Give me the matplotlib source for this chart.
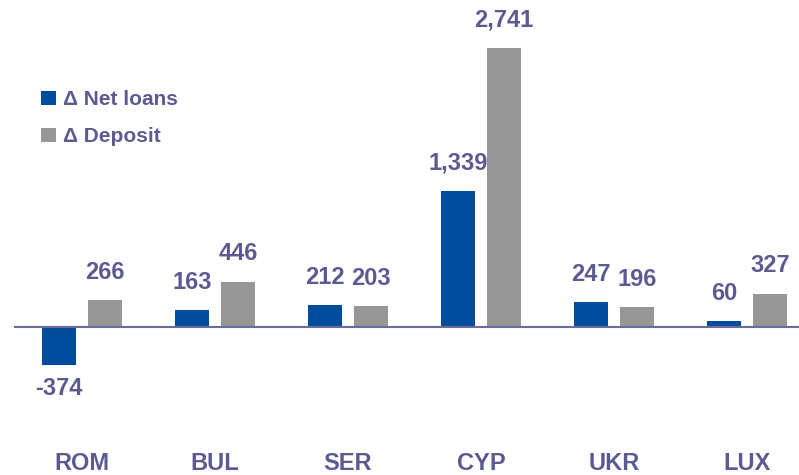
import matplotlib
matplotlib.use("Agg")
import matplotlib.pyplot as plt
import numpy as np
from matplotlib.transforms import blended_transform_factory

# data
categories = ["ROM", "BUL", "SER", "CYP", "UKR", "LUX"]
net_loans = [-374, 163, 212, 1339, 247, 60]
deposits = [266, 446, 203, 2741, 196, 327]
series_names = ["\u0394 Net loans", "\u0394 Deposit"]

blue = "#004c9c"
gray = "#969696"
txt = "#5b5b92"

plt.rcParams["font.family"] = ["Liberation Sans", "DejaVu Sans"]
plt.rcParams["font.weight"] = "bold"

fig = plt.figure(figsize=(7.99, 4.75), dpi=100)
ax = fig.add_axes([0, 0, 1, 1])
ax.axis("off")

x = np.arange(len(categories))
w = 0.263
off = 0.173
b1 = ax.bar(x - off, net_loans, w, color=blue, label=series_names[0])
b2 = ax.bar(x + off, deposits, w, color=gray, label=series_names[1])

# map pixels: group centre 82 + 133*i, zero line at y=327
ax.set_xlim(-82 / 133, (799 - 82) / 133)
ax.set_ylim(-(475 - 327) / 0.1018, 327 / 0.1018)

ax.axhline(0, xmin=15 / 799, xmax=1, color="#6b6b9e", lw=1.5, zorder=3)

for bars in (b1, b2):
    for rect in bars:
        v = rect.get_height()
        cx = rect.get_x() + rect.get_width() / 2
        dy = 20 if v >= 0 else -17
        ax.annotate(f"{v:,.0f}", (cx, v), xytext=(0, dy), textcoords="offset points",
                    ha="center", va="center", fontsize=17, color=txt, fontweight="bold")

trans = blended_transform_factory(ax.transData, ax.transAxes)
for i, c in enumerate(categories):
    ax.text(i, 1 - 464 / 475, c, transform=trans, ha="center", va="center",
            fontsize=17, color=txt, fontweight="bold")

leg = ax.legend(loc="upper left", bbox_to_anchor=(31 / 799, 1 - 80 / 475), frameon=False,
                fontsize=15, handlelength=0.7, handleheight=0.7, handletextpad=0.35,
                labelspacing=0.85, borderpad=0)
for t in leg.get_texts():
    t.set_color(txt)
    t.set_fontweight("bold")

fig.savefig("out.png", dpi=100)
